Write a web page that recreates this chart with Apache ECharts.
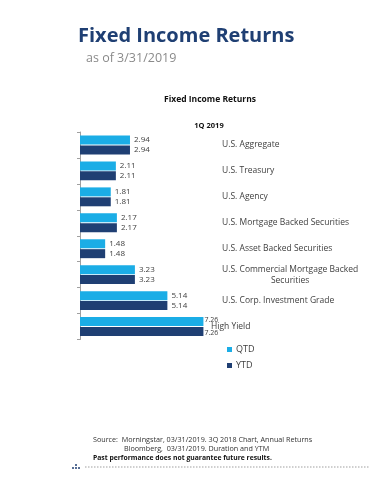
<!DOCTYPE html>
<html>
<head>
<meta charset="utf-8">
<script src="https://cdn.jsdelivr.net/npm/echarts@6/dist/echarts.min.js"></script>
<style>html,body{margin:0;padding:0;background:#fff;}#c{width:370px;height:480px;}</style>
</head>
<body>
<div id="c"></div>
<script>
const categories = ['U.S. Aggregate','U.S. Treasury','U.S. Agency','U.S. Mortgage Backed Securities','U.S. Asset Backed Securities','U.S. Commercial Mortgage Backed Securities','U.S. Corp. Investment Grade','High Yield'];
const qtd = [2.94, 2.11, 1.81, 2.17, 1.48, 3.23, 5.14, 7.26];
const ytd = [2.94, 2.11, 1.81, 2.17, 1.48, 3.23, 5.14, 7.26];
const seriesNames = ['QTD','YTD'];

const FONT = 'Open Sans';
const chart = echarts.init(document.getElementById('c'));
const TXT = '#404040';
function barData(vals, dy) {
  const last = vals.length - 1;
  return vals.map(function (v, i) {
    if (i !== last) return v;
    return {value: v, label: {distance: 1, fontSize: 7, offset: [0, dy]}};
  });
}
chart.setOption({
  animation: false,
  textStyle: {fontFamily: FONT},
  grid: {left: 80, top: 132, width: 136, height: 207.5, containLabel: false},
  xAxis: {type: 'value', min: 0, max: 8, show: false},
  yAxis: [
    {type: 'category', data: categories, inverse: true, position: 'left',
     axisLine: {show: true, lineStyle: {color: '#a0a0a0', width: 1}},
     axisTick: {show: true, length: 3, lineStyle: {color: '#a0a0a0'}},
     axisLabel: {show: false}, splitLine: {show: false}},
    {type: 'category', data: categories, inverse: true, position: 'right',
     axisLine: {show: false}, axisTick: {show: false}, splitLine: {show: false},
     axisLabel: {show: true, margin: -5, align: 'left',
       formatter: function (v) {
         if (v === 'High Yield') return '{h|' + v + '}';
         if (v === 'U.S. Commercial Mortgage Backed Securities') return '{c|U.S. Commercial Mortgage Backed}\n{cc|Securities}';
         return '{n|' + v + '}';
       },
       rich: {
         h: {fontSize: 8.5, color: TXT, fontFamily: FONT},
         n: {fontSize: 8.5, color: TXT, fontFamily: FONT, padding: [0, 0, 0, 11]},
         c: {fontSize: 8.5, color: TXT, fontFamily: FONT, padding: [0, 0, 0, 11], lineHeight: 11},
         cc: {fontSize: 8.5, color: TXT, fontFamily: FONT, align: 'center', lineHeight: 11, padding: [0, 0, 0, 11]}
       }}}
  ],
  legend: {
    orient: 'vertical', left: 222, top: 340, itemWidth: 5, itemHeight: 5, itemGap: 7,
    icon: 'rect', data: seriesNames,
    textStyle: {fontSize: 9, color: TXT, fontFamily: FONT, padding: [0, 0, 0, -1]}
  },
  series: [
    {name: seriesNames[0], type: 'bar', data: barData(qtd, -2), barWidth: 9, barGap: '10%',
     itemStyle: {color: '#1BADE6'},
     label: {show: true, position: 'right', distance: 4, fontSize: 8, color: TXT, fontFamily: FONT}},
    {name: seriesNames[1], type: 'bar', data: barData(ytd, 2), barWidth: 9, barGap: '10%',
     itemStyle: {color: '#1F3F73'},
     label: {show: true, position: 'right', distance: 4, fontSize: 8, color: TXT, fontFamily: FONT}}
  ],
  graphic: [
    {type: 'text', left: 78, top: 26, style: {text: 'Fixed Income Returns', fontSize: 20, fontWeight: 'bold', fill: '#1F3F73', fontFamily: FONT}},
    {type: 'text', left: 86, top: 52, style: {text: 'as of 3/31/2019', fontSize: 12.5, fill: '#8a8a8a', fontFamily: FONT}},
    {type: 'text', x: 210, y: 100, style: {text: 'Fixed Income Returns', fontSize: 8.5, fontWeight: 'bold', fill: '#111', fontFamily: FONT, align: 'center', verticalAlign: 'middle'}},
    {type: 'text', x: 209, y: 126, style: {text: '1Q 2019', fontSize: 7.5, fontWeight: 'bold', fill: '#111', fontFamily: FONT, align: 'center', verticalAlign: 'middle'}},
    {type: 'text', left: 93, top: 436, style: {text: 'Source:  Morningstar, 03/31/2019. 3Q 2018 Chart, Annual Returns', fontSize: 7.2, fill: '#333', fontFamily: FONT}},
    {type: 'text', left: 124, top: 445, style: {text: 'Bloomberg,  03/31/2019. Duration and YTM', fontSize: 7.2, fill: '#333', fontFamily: FONT}},
    {type: 'text', left: 93, top: 455, style: {text: 'Past performance does not guarantee future results.', fontSize: 6.8, fontWeight: 'bold', fill: '#111', fontFamily: FONT}},
    {type: 'line', shape: {x1: 85, y1: 467, x2: 370, y2: 467}, style: {stroke: '#cfcfcf', lineWidth: 2, lineDash: [1.5, 1.5]}},
    {type: 'circle', shape: {cx: 76, cy: 465, r: 1}, style: {fill: '#1F3F73'}},
    {type: 'circle', shape: {cx: 73, cy: 468, r: 1}, style: {fill: '#1F3F73'}},
    {type: 'circle', shape: {cx: 76, cy: 468, r: 1}, style: {fill: '#1F3F73'}},
    {type: 'circle', shape: {cx: 79, cy: 468, r: 1}, style: {fill: '#1F3F73'}}
  ]
});
</script>
</body>
</html>
